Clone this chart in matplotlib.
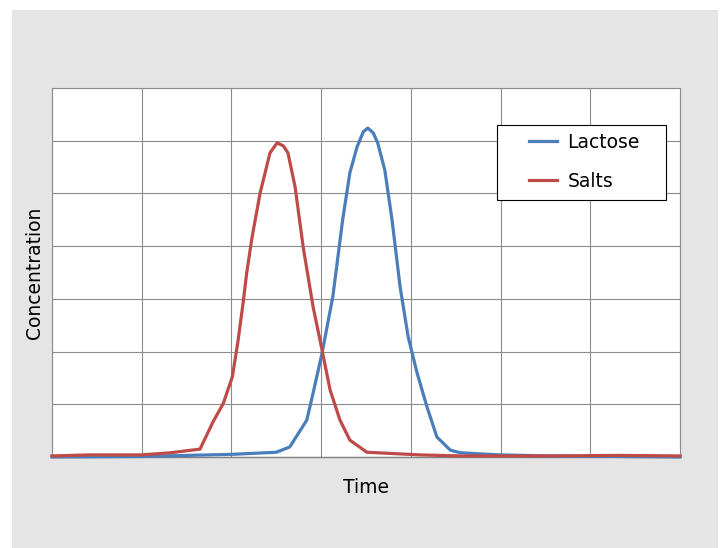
#!/usr/bin/env python3
"""Lactose / salts elution profile (concentration vs time)"""

import matplotlib
matplotlib.use('Agg')
import matplotlib.pyplot as plt
from matplotlib.patches import Rectangle

# Salts peak (elutes first)
salts_time = [0, 4.2, 10.0, 13.2, 16.5, 17.9, 19.1, 20.1, 20.7, 21.3, 21.7, 22.3,
              23.2, 24.3, 25.1, 25.8, 26.3, 27.1, 28.0, 29.1, 30.1, 31.0, 32.1,
              33.2, 35.1, 41.0, 45.5, 55.5, 63.3, 70]
salts_conc = [0.02, 0.04, 0.04, 0.08, 0.15, 0.65, 1.02, 1.52, 2.16, 2.92, 3.49, 4.17,
              5.01, 5.77, 5.96, 5.90, 5.77, 5.12, 3.98, 2.85, 2.03, 1.27, 0.70,
              0.32, 0.09, 0.04, 0.02, 0.02, 0.03, 0.02]

# Lactose peak (elutes second)
lactose_time = [0, 10, 20, 25.0, 26.5, 28.4, 29.1, 30.1, 31.3, 32.4, 33.2, 34.0, 34.7,
                35.2, 35.8, 36.3, 37.1, 37.9, 38.8, 39.7, 40.7, 41.8, 42.9, 44.4,
                45.5, 49.9, 55.5, 70]
lactose_conc = [0.0, 0.01, 0.05, 0.09, 0.19, 0.70, 1.21, 1.97, 3.04, 4.50, 5.39, 5.88, 6.17,
                6.24, 6.15, 5.96, 5.44, 4.50, 3.23, 2.28, 1.59, 0.95, 0.38, 0.13,
                0.08, 0.04, 0.02, 0.0]

fig = plt.figure(figsize=(7.2, 5.48), dpi=100)
fig.patch.set_facecolor('white')

# grey panel behind the chart
fig.patches.append(Rectangle((12 / 720, 0), 706 / 720, 538 / 548,
                             transform=fig.transFigure, facecolor='#e5e5e5',
                             edgecolor='none', zorder=-10))

ax = fig.add_axes([52 / 720, 91 / 548, 628 / 720, 369 / 548])
ax.set_facecolor('white')

ax.plot(lactose_time, lactose_conc, color='#4a7ebb', linewidth=2.3, label='Lactose',
        solid_joinstyle='round', clip_on=False, zorder=3)
ax.plot(salts_time, salts_conc, color='#be4b48', linewidth=2.3, label='Salts',
        solid_joinstyle='round', clip_on=False, zorder=3)

ax.set_xlim(0, 70)
ax.set_ylim(0, 7)
ax.set_xticks(range(0, 71, 10))
ax.set_yticks(range(0, 8))
ax.tick_params(length=0, labelbottom=False, labelleft=False)
ax.grid(True, color='#8c8c8c', linewidth=0.8)
ax.set_axisbelow(True)
for side in ['top', 'right', 'left']:
    ax.spines[side].set_color('#8c8c8c')
    ax.spines[side].set_linewidth(0.8)
ax.spines['bottom'].set_color('#808080')
ax.spines['bottom'].set_linewidth(1.0)

ax.set_xlabel('Time', fontsize=13.5, labelpad=15)
ax.set_ylabel('Concentration', fontsize=13.5, labelpad=6)

# legend frame drawn separately so the padding matches the original box
W, H = 628.0, 369.0
ax.add_patch(Rectangle(((497 - 52) / W, (457 - 200) / H), 169 / W, 75 / H,
                       transform=ax.transAxes, facecolor='white',
                       edgecolor='black', linewidth=0.8, zorder=4))
leg = ax.legend(loc='upper left', bbox_to_anchor=((529 - 52) / W, (457 - 133) / H),
                fontsize=13.5, frameon=False, handlelength=1.5,
                borderpad=0, labelspacing=1.05, handletextpad=0.55,
                borderaxespad=0)
leg.set_zorder(5)

plt.savefig('out.png', dpi=100, facecolor='white')
